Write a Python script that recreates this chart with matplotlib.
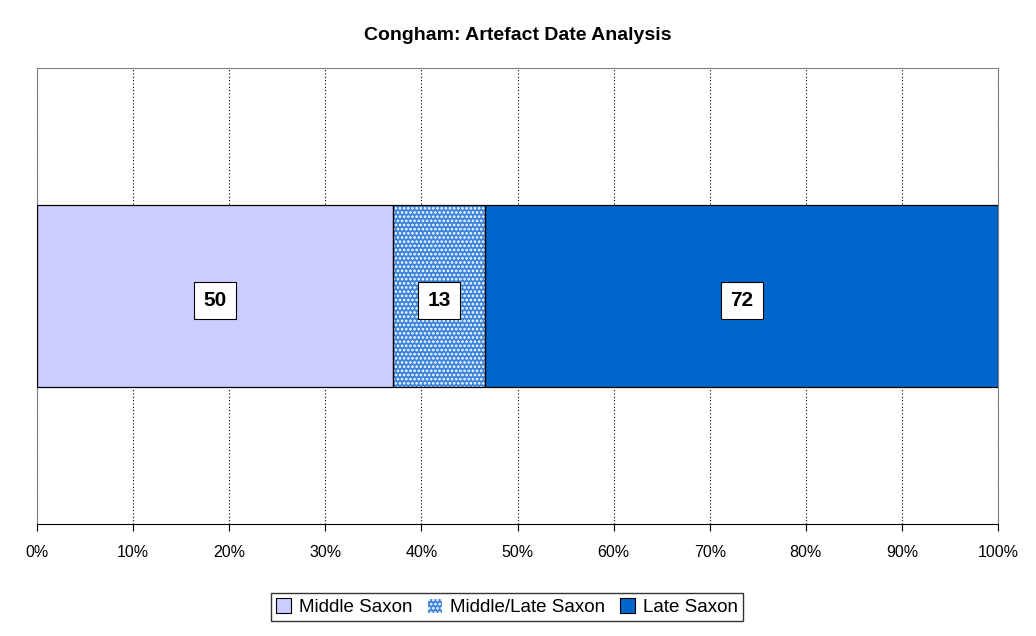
import matplotlib
matplotlib.use("Agg")
import matplotlib.pyplot as plt
from matplotlib.patches import Patch
from matplotlib.ticker import PercentFormatter

plt.rcParams['font.family'] = ['Liberation Sans', 'DejaVu Sans']
plt.rcParams['hatch.linewidth'] = 1.3

# data
series = ['Middle Saxon', 'Middle/Late Saxon', 'Late Saxon']
counts = [50, 13, 72]
colours = ['#CCCCFF', '#3A82DC', '#0066CC']
hatches = [None, '....', None]
hatch_cols = [None, 'white', None]

total = sum(counts)
shares = [c / total for c in counts]

fig = plt.figure(figsize=(10.36, 6.36), dpi=100)
ax = fig.add_axes([37 / 1036, 1 - 524 / 636, (998 - 37) / 1036, (524 - 68) / 636])

left = 0
for name, c, s, col, h, hc in zip(series, counts, shares, colours, hatches, hatch_cols):
    if h:
        ax.barh(0, s, left=left, height=0.397, color=col, edgecolor=hc, hatch=h, linewidth=0, zorder=2)
    else:
        ax.barh(0, s, left=left, height=0.397, color=col, linewidth=0, zorder=2)
    ax.barh(0, s, left=left, height=0.397, fill=False, edgecolor='black', linewidth=0.9, zorder=3)
    ax.text(left + s / 2, -0.01, str(c), ha='center', va='center', fontsize=15, fontweight='bold',
            zorder=4, bbox=dict(boxstyle='square,pad=0.45', facecolor='white', edgecolor='black', linewidth=0.8))
    left += s

ax.set_xlim(0, 1)
ax.set_ylim(-0.5, 0.5)
ax.set_yticks([])
ax.set_xticks([i / 10 for i in range(11)])
ax.xaxis.set_major_formatter(PercentFormatter(1.0, decimals=0))
ax.tick_params(axis='x', direction='out', length=5, labelsize=11.5, pad=10, color='black')
ax.grid(axis='x', color='black', linestyle=(0, (1, 2)), linewidth=0.8, zorder=1)
for side in ['top', 'left', 'right']:
    ax.spines[side].set_color('#808080')
ax.spines['bottom'].set_color('black')

fig.text(0.5, 1 - 36 / 636, 'Congham: Artefact Date Analysis', ha='center', va='center',
         fontsize=14, fontweight='bold')

handles = []
for col, h, hc in zip(colours, hatches, hatch_cols):
    if h:
        handles.append(Patch(facecolor=col, edgecolor=hc, hatch='....', linewidth=0.8))
    else:
        handles.append(Patch(facecolor=col, edgecolor='black', linewidth=0.8))
leg = fig.legend(handles, series, loc='center', bbox_to_anchor=(507 / 1036, 1 - 607 / 636), ncol=3,
                 fontsize=13.5, frameon=True, fancybox=False, edgecolor='black',
                 handlelength=0.8, handleheight=0.8, handletextpad=0.4, columnspacing=0.8,
                 borderpad=0.3)
leg.get_frame().set_linewidth(1.0)

fig.savefig('out.png', dpi=100)
